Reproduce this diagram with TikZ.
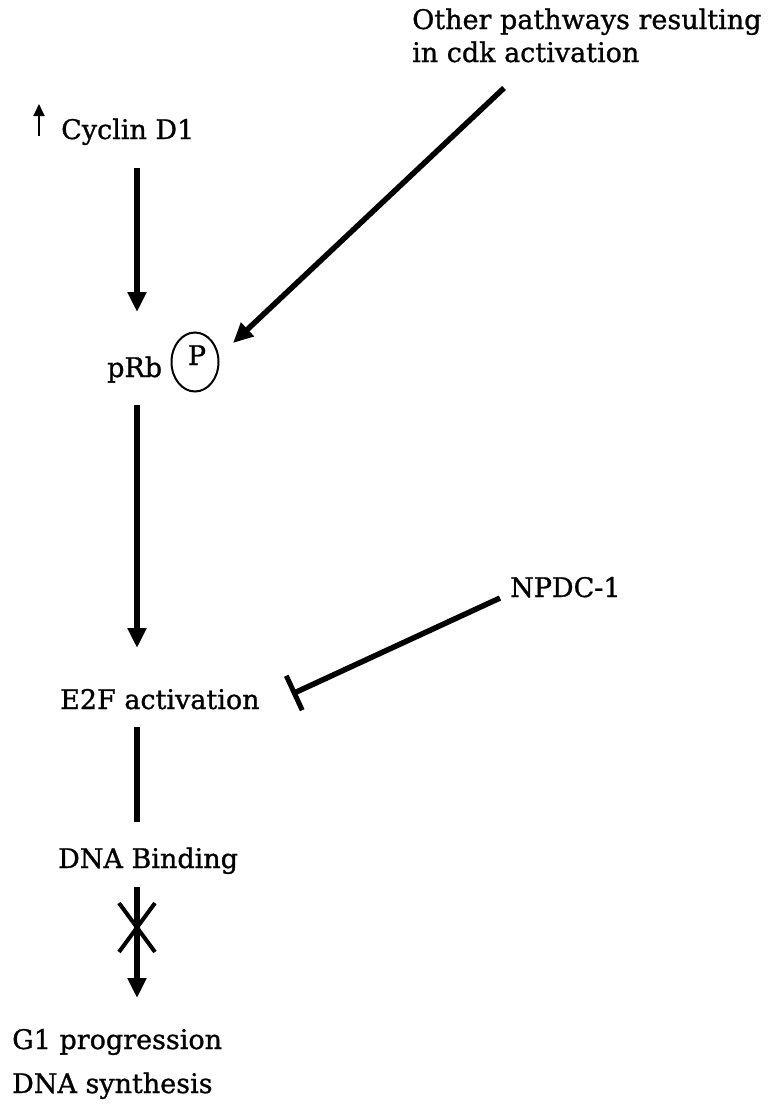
\documentclass[tikz,border=0pt]{standalone}
\usepackage{fontspec}
\setmainfont{DejaVu Serif}[FakeBold=1]
\usetikzlibrary{arrows.meta,shapes.geometric}
\begin{document}
\begin{tikzpicture}[x=1pt,y=-1pt,
  lbl/.style={anchor=base west, inner sep=0pt, font=\fontsize{27}{32}\selectfont},
  conn/.style={line width=5.5pt},
  act/.style={conn,-{Triangle[length=20pt,width=18pt]}},
  inh/.style={conn,-{Bar[width=38pt,line width=5pt]}},
  crossx/.style={line width=4pt}]
\useasboundingbox (0,0) rectangle (781,1114);
% labels
\node[lbl] (other) at (412,29) {Other pathways resulting};
\node[lbl] (other2) at (412,62) {in cdk activation};
\node[lbl] (cyc) at (61,139) {Cyclin D1};
\node[lbl] (prb) at (107,377) {pRb};
\node[draw, ellipse, line width=2pt, minimum width=47pt, minimum height=59pt, inner sep=0pt] (p) at (195,362) {};
\node[lbl, anchor=base] (plbl) at (197,365) {P};
\node[lbl] (npdc) at (510,597) {NPDC-1};
\node[lbl] (e2f) at (60,709) {E2F activation};
\node[lbl] (dna) at (58,868) {DNA Binding};
\node[lbl] (g1) at (12,1049) {G1 progression};
\node[lbl] (syn) at (12,1093) {DNA synthesis};
% connector endpoints
\coordinate (up1) at (39,136);
\coordinate (up2) at (39,104);
\coordinate (a1) at (137,168);
\coordinate (a2) at (137,312);
\coordinate (o1) at (504,88);
\coordinate (o2) at (233,343);
\coordinate (b1) at (137,405);
\coordinate (b2) at (137,648);
\coordinate (n1) at (500,598);
\coordinate (n2) at (292,694);
\coordinate (c1) at (137,727);
\coordinate (c2) at (137,822);
\coordinate (d1) at (137,887);
\coordinate (d2) at (137,998);
\coordinate (x1) at (119,903);
\coordinate (x2) at (155,952);
\coordinate (x3) at (155,903);
\coordinate (x4) at (119,952);
% connectors
\draw[line width=2pt,-{Triangle[length=12pt,width=11pt]}] (up1) -- (up2);
\draw[act] (a1) -- (a2);
\draw[act] (o1) -- (o2);
\draw[act] (b1) -- (b2);
\draw[inh] (n1) -- (n2);
\draw[conn] (c1) -- (c2);
\draw[act] (d1) -- (d2);
\draw[crossx] (x1) -- (x2);
\draw[crossx] (x3) -- (x4);
\end{tikzpicture}
\end{document}
